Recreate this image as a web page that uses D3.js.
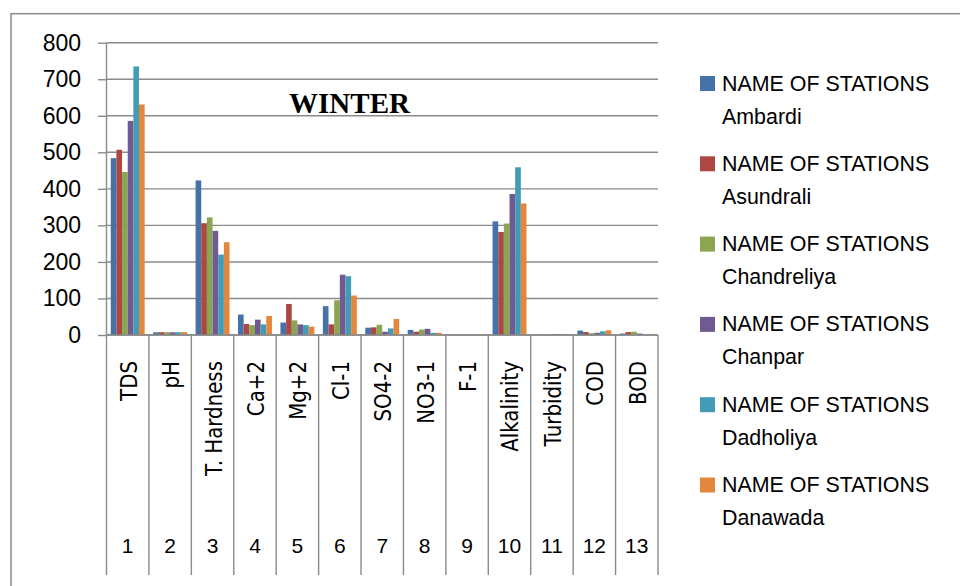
<!DOCTYPE html>
<html>
<head>
<meta charset="utf-8">
<script src="https://cdn.jsdelivr.net/npm/d3@7"></script>
<style>
  html, body { margin: 0; padding: 0; background: #ffffff; }
  svg { display: block; }
</style>
</head>
<body>
<svg id="chart" width="960" height="586"></svg>
<script>
// Water quality parameters (winter season) for six sampling stations
const categories = ["TDS", "pH", "T. Hardness", "Ca+2", "Mg+2", "Cl-1", "SO4-2", "NO3-1", "F-1", "Alkalinity", "Turbidity", "COD", "BOD"];
const categoryNumbers = ["1", "2", "3", "4", "5", "6", "7", "8", "9", "10", "11", "12", "13"];
const stations = ["Ambardi", "Asundrali", "Chandreliya", "Chanpar", "Dadholiya", "Danawada"];

const ambardi     = [484, 7.4, 423, 56, 34, 79, 20, 14, 1.0, 311, 1, 12, 4];
const asundrali   = [507, 7.6, 306, 30, 85, 29, 21, 9, 0.8, 282, 1, 8, 8];
const chandreliya = [446, 7.8, 322, 27, 40, 95, 28, 15, 1.2, 305, 1, 5, 9];
const chanpar     = [586, 7.5, 285, 42, 29, 165, 9, 17, 0.9, 386, 2, 6, 4];
const dadholiya   = [735, 7.7, 220, 29, 27, 161, 18, 6, 1.1, 459, 1, 10, 1];
const danawada    = [631, 7.9, 254, 52, 23, 108, 44, 6, 1.0, 360, 3, 13, 3];

const seriesValues = [ambardi, asundrali, chandreliya, chanpar, dadholiya, danawada];
const seriesColors = ["#4672AA", "#AC4744", "#8BA651", "#715A92", "#429CB5", "#E3873D"];
const yTicks = [0, 100, 200, 300, 400, 500, 600, 700, 800];
const chartTitle = "WINTER";
const legendPrefix = "NAME OF STATIONS";

const svg = d3.select("#chart");
const gridColor = "#8a8a8a";

// Plot geometry
const plot = { left: 106.5, right: 658, top: 42.7, bottom: 335, labelsBottom: 575 };

// Outer chart frame
svg.append("rect")
  .attr("x", 11).attr("y", 13.7)
  .attr("width", 1000).attr("height", 1000)
  .attr("fill", "none")
  .attr("stroke", "#8c8c8c")
  .attr("stroke-width", 1.5);

const x = d3.scaleBand()
  .domain(categories)
  .range([plot.left, plot.right])
  .paddingInner(0).paddingOuter(0);

const xs = d3.scaleBand()
  .domain(stations)
  .range([0, x.bandwidth()])
  .paddingInner(0).paddingOuter(0.75);

const y = d3.scaleLinear()
  .domain([0, 800])
  .range([plot.bottom, plot.top]);

// Horizontal gridlines
svg.append("g")
  .selectAll("line")
  .data(yTicks)
  .join("line")
  .attr("x1", plot.left).attr("x2", plot.right)
  .attr("y1", d => y(d)).attr("y2", d => y(d))
  .attr("stroke", gridColor)
  .attr("stroke-width", 1.4);

// Y axis with tick labels
const yAxis = svg.append("g")
  .attr("transform", `translate(${plot.left},0)`)
  .call(d3.axisLeft(y).tickValues(yTicks).tickSize(8.5).tickPadding(17).tickFormat(d3.format("d")));
yAxis.select(".domain").remove();
yAxis.selectAll(".tick line").attr("stroke", gridColor).attr("stroke-width", 1.4);
yAxis.selectAll(".tick text")
  .attr("fill", "#000")
  .style("font-family", "'Liberation Sans', Arial, sans-serif")
  .style("font-size", "23px");

// Title
svg.append("text")
  .attr("x", 349.5).attr("y", 113.3)
  .attr("text-anchor", "middle")
  .style("font-family", "'Liberation Serif', 'Times New Roman', serif")
  .style("font-weight", "bold")
  .style("font-size", "29px")
  .attr("fill", "#000")
  .text(chartTitle);

// Bars
const groups = svg.append("g")
  .selectAll("g")
  .data(seriesValues)
  .join("g")
  .attr("fill", (d, i) => seriesColors[i]);

groups.selectAll("rect")
  .data((vals, si) => vals.map((v, ci) => ({ v, ci, si })))
  .join("rect")
  .attr("x", d => x(categories[d.ci]) + xs(stations[d.si]))
  .attr("width", xs.bandwidth())
  .attr("y", d => y(d.v))
  .attr("height", d => y(0) - y(d.v));

// Category axis baseline and multi-level separators
svg.append("line")
  .attr("x1", plot.left).attr("x2", plot.right)
  .attr("y1", y(0)).attr("y2", y(0))
  .attr("stroke", gridColor).attr("stroke-width", 1.4);

svg.append("line")
  .attr("x1", plot.left).attr("x2", plot.left)
  .attr("y1", plot.top).attr("y2", plot.bottom)
  .attr("stroke", gridColor).attr("stroke-width", 1.4);

const boundaries = categories.map(c => x(c)).concat([plot.right]);
svg.append("g")
  .selectAll("line")
  .data(boundaries)
  .join("line")
  .attr("x1", d => d).attr("x2", d => d)
  .attr("y1", plot.bottom).attr("y2", plot.labelsBottom)
  .attr("stroke", gridColor)
  .attr("stroke-width", 1.4);

// Rotated parameter names
svg.append("g")
  .selectAll("text")
  .data(categories)
  .join("text")
  .attr("transform", d => `translate(${x(d) + x.bandwidth() / 2 + 1},361) rotate(-90) scale(0.88,1)`)
  .attr("text-anchor", "end")
  .attr("dominant-baseline", "central")
  .style("font-family", "'DejaVu Sans', Verdana, sans-serif")
  .style("font-size", "22.5px")
  .attr("fill", "#000")
  .text(d => d);

// Serial numbers row
svg.append("g")
  .selectAll("text")
  .data(categories)
  .join("text")
  .attr("x", d => x(d) + x.bandwidth() / 2)
  .attr("y", 553)
  .attr("text-anchor", "middle")
  .style("font-family", "'Liberation Sans', Arial, sans-serif")
  .style("font-size", "21px")
  .attr("fill", "#000")
  .text((d, i) => categoryNumbers[i]);

// Legend
const legend = svg.append("g")
  .selectAll("g")
  .data(stations)
  .join("g")
  .attr("transform", (d, i) => `translate(700,${76 + i * 80.3})`);

legend.append("rect")
  .attr("width", 15).attr("height", 15)
  .attr("fill", (d, i) => seriesColors[i]);

legend.append("text")
  .attr("x", 22).attr("y", 14.5)
  .style("font-family", "'Liberation Sans', Arial, sans-serif")
  .style("font-size", "21.4px")
  .attr("fill", "#000")
  .text(legendPrefix);

legend.append("text")
  .attr("x", 22).attr("y", 47.5)
  .style("font-family", "'Liberation Sans', Arial, sans-serif")
  .style("font-size", "21.4px")
  .attr("fill", "#000")
  .text(d => d);
</script>
</body>
</html>
